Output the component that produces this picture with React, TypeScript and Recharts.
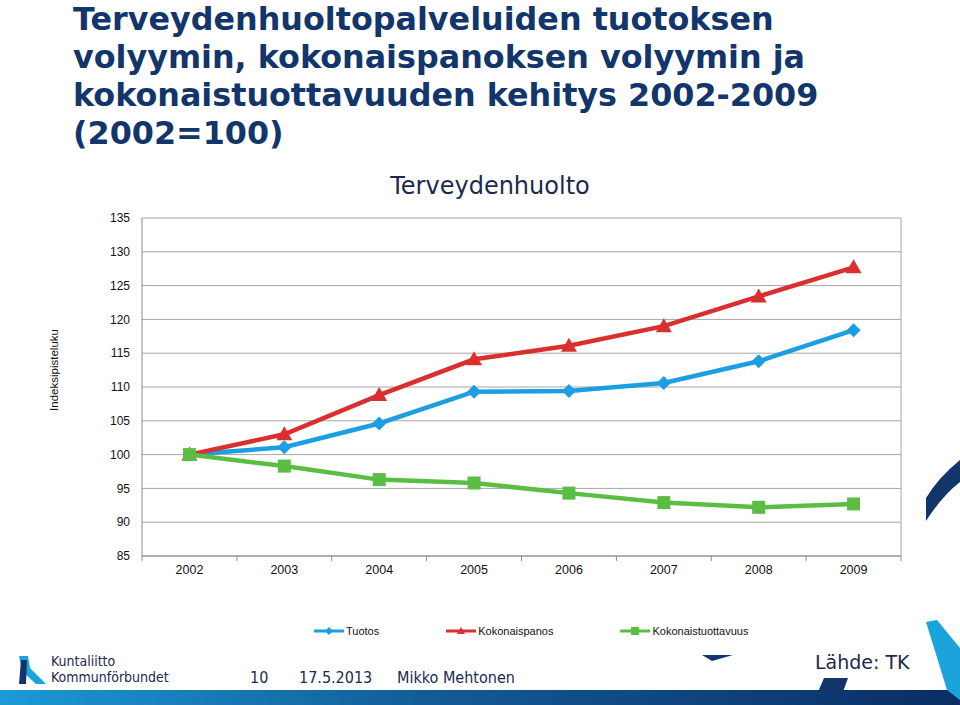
import { LineChart, Line, XAxis, YAxis, CartesianGrid } from 'recharts'

const years = ['2002', '2003', '2004', '2005', '2006', '2007', '2008', '2009']
const tuotos = [100, 101.1, 104.6, 109.3, 109.4, 110.6, 113.8, 118.4]
const kokonaispanos = [100, 103.0, 108.8, 114.1, 116.1, 119.0, 123.4, 127.7]
const kokonaistuottavuus = [100, 98.3, 96.3, 95.8, 94.3, 92.9, 92.2, 92.7]
const yTicks = [85, 90, 95, 100, 105, 110, 115, 120, 125, 130, 135]

const data = years.map((year, i) => ({
  year,
  tuotos: tuotos[i],
  kokonaispanos: kokonaispanos[i],
  kokonaistuottavuus: kokonaistuottavuus[i]
}))

const BLUE = '#1c9fe0'
const RED = '#d9302f'
const GREEN = '#5cbd45'
const NAVY = '#12356b'
const BAND = (960 - 142 - 59) / years.length

const Diamond = ({ cx, cy, color, r = 7 }: any) => (
  <path d={`M${cx},${cy - r} L${cx + r},${cy} L${cx},${cy + r} L${cx - r},${cy} Z`} fill={color} />
)
const Triangle = ({ cx, cy, color, r = 8 }: any) => (
  <path d={`M${cx},${cy - r} L${cx + r},${cy + r * 0.75} L${cx - r},${cy + r * 0.75} Z`} fill={color} />
)
const Square = ({ cx, cy, color, r = 6.5 }: any) => (
  <rect x={cx - r} y={cy - r} width={r * 2} height={r * 2} fill={color} />
)

const series = [
  { key: 'tuotos', name: 'Tuotos', color: BLUE, Mark: Diamond },
  { key: 'kokonaispanos', name: 'Kokonaispanos', color: RED, Mark: Triangle },
  { key: 'kokonaistuottavuus', name: 'Kokonaistuottavuus', color: GREEN, Mark: Square }
]

const XTick = ({ x, y, payload, index }: any) => (
  <g>
    <line x1={x - BAND / 2} x2={x - BAND / 2} y1={y} y2={y + 5} stroke="#8c8c8c" />
    {index === years.length - 1 && (
      <line x1={x + BAND / 2} x2={x + BAND / 2} y1={y} y2={y + 5} stroke="#8c8c8c" />
    )}
    <text x={x} y={y + 18} textAnchor="middle" fontSize={12.5} fill="#111" fontFamily="Liberation Sans, Arial">
      {payload.value}
    </text>
  </g>
)

const LegendBox = () => (
  <div style={{ position: 'absolute', top: 625, left: 0, display: 'flex', gap: 67, paddingLeft: 314, fontFamily: 'Liberation Sans, Arial', fontSize: 11, color: '#111' }}>
    {series.map((s) => (
      <div key={s.key} style={{ display: 'flex', alignItems: 'center', gap: 2 }}>
        <svg width={30} height={12}>
          <line x1={0} x2={30} y1={6} y2={6} stroke={s.color} strokeWidth={3} />
          <s.Mark cx={15} cy={6} r={4} color={s.color} />
        </svg>
        <span>{s.name}</span>
      </div>
    ))}
  </div>
)

export default function App() {
  return (
    <div style={{ position: 'absolute', left: 0, top: 0, width: 960, height: 705, background: '#fff', overflow: 'hidden' }}>
      <svg width={960} height={705} style={{ position: 'absolute', left: 0, top: 0 }}>
        <defs>
          <linearGradient id="bar" x1="0" x2="1" y1="0" y2="0">
            <stop offset="0" stopColor="#1b9ad6" />
            <stop offset="0.45" stopColor="#135a96" />
            <stop offset="1" stopColor="#0b2d63" />
          </linearGradient>
        </defs>
        <rect x={0} y={690} width={960} height={15} fill="url(#bar)" />
        <path d="M702,655 L733,655 L712,661 Z" fill={NAVY} />
        <path d="M824,678 L848,678 L843,692 L818,692 Z" fill={NAVY} />
        <path d="M926,521 L926,498 Q938,478 960,460 L960,482 Q942,496 926,521 Z" fill={NAVY} />
        <path d="M926,622 L937,620 L960,648 L960,700 L947,690 Z" fill="#1ba4dc" />
        {/* logo */}
        <path d="M19,656 L28,656 L30,668 L46,684 L36,684 L22,671 Z" fill="#1ba4dc" />
        <path d="M21,660 L27,660 L26,684 L19,684 Z" fill={NAVY} />
        <text x={51} y={666} fontSize={14} fill="#1a2a50" fontFamily="DejaVu Sans Condensed, DejaVu Sans">Kuntaliitto</text>
        <text x={51} y={682} fontSize={14} fill="#1a2a50" fontFamily="DejaVu Sans Condensed, DejaVu Sans">Kommunförbundet</text>
        <text x={250} y={683} fontSize={16} fill="#1a2a50" fontFamily="DejaVu Sans Condensed, DejaVu Sans">10</text>
        <text x={299} y={683} fontSize={16} fill="#1a2a50" fontFamily="DejaVu Sans Condensed, DejaVu Sans">17.5.2013</text>
        <text x={397} y={683} fontSize={16} fill="#1a2a50" fontFamily="DejaVu Sans Condensed, DejaVu Sans">Mikko Mehtonen</text>
        <text x={815} y={669} fontSize={19} fill="#1a2a50" fontFamily="DejaVu Sans">Lähde: TK</text>
        <text x={490} y={194} fontSize={24} fill="#1a2a50" textAnchor="middle" fontFamily="DejaVu Sans">Terveydenhuolto</text>
        <text transform="translate(58,370) rotate(-90)" fontSize={11.5} textAnchor="middle" fill="#111" fontFamily="Liberation Sans, Arial">Indeksipisteluku</text>
      </svg>
      <div style={{ position: 'absolute', left: 73, top: 0, fontFamily: 'DejaVu Sans', fontWeight: 'bold', fontSize: 31.8, lineHeight: '38px', color: NAVY, whiteSpace: 'nowrap' }}>
        <div>Terveydenhuoltopalveluiden tuotoksen</div>
        <div>volyymin, kokonaispanoksen volyymin ja</div>
        <div>kokonaistuottavuuden kehitys 2002-2009</div>
        <div>(2002=100)</div>
      </div>
      <div style={{ position: 'absolute', left: 0, top: 0 }}>
        <LineChart width={960} height={705} data={data} margin={{ top: 218, right: 58, bottom: 119, left: 102 }}>
          <CartesianGrid vertical={false} stroke="#a6a6a6" />
          <XAxis
            dataKey="year"
            height={30}
            padding={{ left: BAND / 2, right: BAND / 2 }}
            tickSize={0}
            tickMargin={0}
            tickLine={false}
            axisLine={{ stroke: '#8c8c8c' }}
            tick={<XTick />}
            interval={0}
          />
          <YAxis
            width={40}
            domain={[85, 135]}
            ticks={yTicks}
            tickLine={false}
            tickSize={6}
            tickMargin={6}
            axisLine={{ stroke: '#8c8c8c' }}
            tick={{ fontSize: 12, fill: '#111', fontFamily: 'Liberation Sans, Arial' }}
          />
          <YAxis yAxisId="right" orientation="right" width={1} domain={[85, 135]} tick={false} tickLine={false} axisLine={{ stroke: '#a6a6a6' }} />
          {series.map((s) => (
            <Line
              key={s.key}
              dataKey={s.key}
              name={s.name}
              stroke={s.color}
              strokeWidth={4.5}
              isAnimationActive={false}
              dot={(p: any) => <s.Mark key={`${s.key}-${p.index}`} cx={p.cx} cy={p.cy} color={s.color} />}
              activeDot={false}
            />
          ))}
        </LineChart>
      </div>
      <LegendBox />
    </div>
  )
}
